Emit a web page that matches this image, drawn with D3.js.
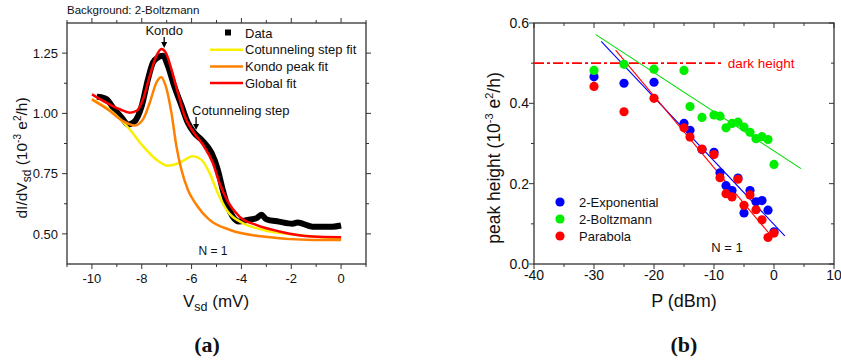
<!DOCTYPE html>
<html><head><meta charset="utf-8">
<script src="https://cdn.jsdelivr.net/npm/d3@7"></script>
<style>body{margin:0;background:#fff}svg{display:block}text{font-family:"Liberation Sans",Arial,sans-serif}</style>
</head><body><svg id="c" width="841" height="360"></svg>
<script>
// ---- Panel (a) data ----
const dataV = [-9.8,-9.6,-9.4,-9.15,-8.8,-8.55,-8.3,-8.0,-7.75,-7.55,-7.35,-7.15,-6.95,-6.7,-6.4,-6.15,-5.9,-5.55,-5.2,-4.95,-4.75,-4.55,-4.35,-4.1,-3.75,-3.4,-3.2,-3.0,-2.5,-1.95,-1.75,-1.15,-0.35,0];
const dataG = [1.069,1.066,1.058,1.024,0.982,0.954,0.965,1.031,1.142,1.211,1.232,1.239,1.197,1.114,1.031,0.961,0.92,0.885,0.836,0.767,0.683,0.614,0.572,0.551,0.558,0.565,0.579,0.561,0.551,0.542,0.547,0.530,0.530,0.535];
const globalV = [-10,-9.41,-8.88,-8.48,-8.21,-7.95,-7.68,-7.41,-7.21,-7.04,-6.81,-6.55,-6.28,-5.95,-5.55,-5.15,-4.88,-4.55,-4.08,-3.41,-2.48,-1.15,0];
const globalG = [1.079,1.044,1.017,1.003,1.010,1.058,1.155,1.239,1.267,1.253,1.183,1.086,0.989,0.926,0.871,0.795,0.711,0.635,0.572,0.537,0.510,0.489,0.486];
const kondoV = [-10,-9.28,-8.75,-8.28,-7.95,-7.68,-7.41,-7.22,-7.04,-6.81,-6.61,-6.41,-6.15,-5.81,-5.28,-4.48,-3.15,-1.15,0];
const kondoG = [1.058,1.010,0.968,0.950,0.975,1.044,1.128,1.150,1.114,1.003,0.864,0.767,0.683,0.621,0.558,0.517,0.489,0.475,0.475];
const cotV = [-10,-9.15,-8.48,-7.95,-7.41,-6.95,-6.48,-5.95,-5.61,-5.28,-4.95,-4.55,-3.95,-3.15,-1.81,0];
const cotG = [1.058,1.003,0.933,0.864,0.808,0.783,0.795,0.822,0.808,0.753,0.670,0.593,0.545,0.517,0.496,0.480];
const aXTicks = [-10,-8,-6,-4,-2,0];
const aYTicks = [0.50,0.75,1.00,1.25];
const aLegend = ["Data","Cotunneling step fit","Kondo peak fit","Global fit"];

// ---- Panel (b) data ----
const P = [-30,-25,-20,-15,-14,-12,-10,-9,-8,-7,-6,-5,-4,-3,-2,-1,0];
const hExp = [0.466,0.450,0.4525,0.350,0.333,0.285,0.278,0.227,0.195,0.183,0.214,0.127,0.183,0.155,0.158,0.134,0.080];
const hBoltz = [0.482,0.497,0.485,0.482,0.392,0.365,0.371,0.368,0.339,0.350,0.353,0.341,0.328,0.312,0.317,0.310,0.248];
const hPara = [0.442,0.379,0.4125,0.339,0.316,0.286,0.2725,0.215,0.175,0.167,0.211,0.146,0.172,0.135,0.110,0.066,0.077];
const fitExp = [[-28.8,0.554],[1.8,0.070]];
const fitBoltz = [[-29.7,0.571],[4.5,0.2375]];
const fitPara = [[-26.4,0.5325],[-0.3,0.067]];
const darkHeight = 0.5;
const bXTicks = [-40,-30,-20,-10,0,10];
const bYTicks = [0.0,0.2,0.4,0.6];
const bLegend = ["2-Exponential","2-Boltzmann","Parabola"];

const svg = d3.select("#c");
const AX = "#333";

function frame(x, y, xMaj, xMin, yMaj, yMin, fmtY, fs, inwardTR) {
  const [x0,x1] = x.range(), [y0,y1] = y.range();
  const g = svg.append("g");
  g.append("rect").attr("x",x0).attr("y",y1).attr("width",x1-x0).attr("height",y0-y1)
    .attr("fill","none").attr("stroke",AX).attr("stroke-width",1.3);
  const t = (x1_,y1_,x2_,y2_) => g.append("line").attr("x1",x1_).attr("y1",y1_).attr("x2",x2_).attr("y2",y2_).attr("stroke",AX).attr("stroke-width",1);
  const dTR = inwardTR ? -1 : 1;
  xMaj.forEach(v=>{const px=x(v); t(px,y0,px,y0+5); t(px,y1,px,y1-5*dTR);});
  xMin.forEach(v=>{const px=x(v); t(px,y0,px,y0+3); t(px,y1,px,y1-3*dTR);});
  yMaj.forEach(v=>{const py=y(v); t(x0,py,x0-5,py); t(x1,py,x1+5*dTR,py);});
  yMin.forEach(v=>{const py=y(v); t(x0,py,x0-3,py); t(x1,py,x1+3*dTR,py);});
  xMaj.forEach(v=>g.append("text").attr("x",x(v)).attr("y",y0+ (fs>13.5?16:19)).attr("text-anchor","middle").attr("font-size",fs).attr("fill","#111").text(v));
  yMaj.forEach(v=>g.append("text").attr("x",x0-(fs>13.5?5:9)).attr("y",y(v)+fs*0.36).attr("text-anchor","end").attr("font-size",fs).attr("fill","#111").text(fmtY(v)));
}

// ===== Panel (a) =====
const xa = d3.scaleLinear().domain([-11,1]).range([67,366]);
const ya = d3.scaleLinear().domain([0.375,1.375]).range([264,23]);
frame(xa, ya, aXTicks, d3.range(-11,2,1).filter(v=>!aXTicks.includes(v)), aYTicks, [0.625,0.875,1.125], d3.format(".2f"), 13, false);

const lineA = d3.line().x(d=>xa(d[0])).y(d=>ya(d[1])).curve(d3.curveMonotoneX);
const ga = svg.append("g");
ga.append("path").datum(dataV.map((v,i)=>[v,dataG[i]])).attr("d",lineA).attr("fill","none").attr("stroke","#000").attr("stroke-width",6).attr("stroke-linejoin","round");
ga.append("path").datum(cotV.map((v,i)=>[v,cotG[i]])).attr("d",lineA).attr("fill","none").attr("stroke","#f8f000").attr("stroke-width",2.5);
ga.append("path").datum(kondoV.map((v,i)=>[v,kondoG[i]])).attr("d",lineA).attr("fill","none").attr("stroke","#ff8000").attr("stroke-width",2.5);
ga.append("path").datum(globalV.map((v,i)=>[v,globalG[i]])).attr("d",lineA).attr("fill","none").attr("stroke","#ff0000").attr("stroke-width",2.5);

// title
svg.append("text").attr("x",67).attr("y",14).attr("font-size",11.5).attr("fill","#111").text("Background: 2-Boltzmann");
// legend (a)
const legA = svg.append("g");
const legColors = [null,"#f8f000","#ff8000","#ff0000"];
aLegend.forEach((s,i)=>{
  const yy = 33 + i*16.7;
  if (i===0) legA.append("rect").attr("x",225).attr("y",yy-3.5).attr("width",6).attr("height",6).attr("fill","#000");
  else legA.append("line").attr("x1",210).attr("x2",243).attr("y1",yy).attr("y2",yy).attr("stroke",legColors[i]).attr("stroke-width",2.5);
  legA.append("text").attr("x",245).attr("y",yy+4.7).attr("font-size",13).attr("fill","#111").text(s);
});
// annotations
function arrow(x, yTop, yBot) {
  svg.append("line").attr("x1",x).attr("x2",x).attr("y1",yTop).attr("y2",yBot-4).attr("stroke","#000").attr("stroke-width",1.3);
  svg.append("path").attr("d",`M${x-3},${yBot-6}L${x+3},${yBot-6}L${x},${yBot}Z`).attr("fill","#000");
}
svg.append("text").attr("x",xa(-7.1)).attr("y",35).attr("text-anchor","middle").attr("font-size",13).attr("fill","#111").text("Kondo");
arrow(xa(-7.1), 37, 48);
svg.append("text").attr("x",192).attr("y",115).attr("font-size",13).attr("fill","#111").text("Cotunneling step");
arrow(xa(-5.82), 117, 130);
svg.append("text").attr("x",213).attr("y",255).attr("text-anchor","middle").attr("font-size",12).attr("fill","#111").text("N = 1");

// axis titles (a)
const xtA = svg.append("text").attr("x",216).attr("y",307).attr("text-anchor","middle").attr("font-size",17).attr("fill","#111");
xtA.append("tspan").text("V");
xtA.append("tspan").attr("font-size",12.5).attr("dy",4).text("sd");
xtA.append("tspan").attr("dy",-4).text(" (mV)");
const ytA = svg.append("text").attr("transform","translate(27,158) rotate(-90)").attr("text-anchor","middle").attr("font-size",15.5).attr("fill","#111");
ytA.append("tspan").text("dI/dV");
ytA.append("tspan").attr("font-size",12).attr("dy",4).text("sd");
ytA.append("tspan").attr("dy",-4).text(" (10");
ytA.append("tspan").attr("font-size",10).attr("dy",-6).text("-3");
ytA.append("tspan").attr("dy",6).text(" e");
ytA.append("tspan").attr("font-size",10).attr("dy",-6).text("2");
ytA.append("tspan").attr("dy",6).text("/h)");
svg.append("text").attr("x",207).attr("y",352).attr("text-anchor","middle").attr("font-size",22).attr("font-weight","bold").attr("font-family","Liberation Serif, Times New Roman, serif").style("font-family","'Liberation Serif','Times New Roman',serif").attr("fill","#111").text("(a)");

// ===== Panel (b) =====
const xb = d3.scaleLinear().domain([-40,10]).range([534,834]);
const yb = d3.scaleLinear().domain([0,0.6]).range([264,23]);
frame(xb, yb, bXTicks, [-35,-25,-15,-5,5], bYTicks, [0.1,0.3,0.5], d3.format(".1f"), 14, true);

const gb = svg.append("g");
// dark height
gb.append("line").attr("x1",xb(-40)).attr("x2",xb(-8.5)).attr("y1",yb(darkHeight)).attr("y2",yb(darkHeight))
  .attr("stroke","#ff0000").attr("stroke-width",1.6).attr("stroke-dasharray","10,3,3,3");
gb.append("text").attr("x",xb(-7.7)).attr("y",yb(darkHeight)+5).attr("font-size",13.5).attr("fill","#ff0000").text("dark height");
// fits
const lineB = d3.line().x(d=>xb(d[0])).y(d=>yb(d[1]));
gb.append("path").attr("d",lineB(fitBoltz)).attr("stroke","#00dd00").attr("stroke-width",1.1).attr("fill","none");
gb.append("path").attr("d",lineB(fitExp)).attr("stroke","#0000ff").attr("stroke-width",1.1).attr("fill","none");
gb.append("path").attr("d",lineB(fitPara)).attr("stroke","#ff0000").attr("stroke-width",1.1).attr("fill","none");
// points
const series = [[hExp,"#0000ff"],[hBoltz,"#00ee00"],[hPara,"#ff0000"]];
series.forEach(([arr,col])=>{
  gb.selectAll(null).data(P.map((p,i)=>[p,arr[i]])).enter().append("circle")
    .attr("cx",d=>xb(d[0])).attr("cy",d=>yb(d[1])).attr("r",4.6).attr("fill",col);
});
// legend (b)
bLegend.forEach((s,i)=>{
  const yy = 202 + i*17;
  gb.append("circle").attr("cx",560).attr("cy",yy).attr("r",4.6).attr("fill",series[i][1]);
  gb.append("text").attr("x",579).attr("y",yy+4.7).attr("font-size",13).attr("fill","#111").text(s);
});
gb.append("text").attr("x",727).attr("y",252).attr("text-anchor","middle").attr("font-size",13).attr("fill","#111").text("N = 1");
// axis titles (b)
svg.append("text").attr("x",684).attr("y",307).attr("text-anchor","middle").attr("font-size",18).attr("fill","#111").text("P (dBm)");
const ytB = svg.append("text").attr("transform","translate(500,158) rotate(-90)").attr("text-anchor","middle").attr("font-size",17.5).attr("fill","#111");
ytB.append("tspan").text("peak height (10");
ytB.append("tspan").attr("font-size",11).attr("dy",-7).text("-3");
ytB.append("tspan").attr("dy",7).text(" e");
ytB.append("tspan").attr("font-size",11).attr("dy",-7).text("2");
ytB.append("tspan").attr("dy",7).text("/h)");
svg.append("text").attr("x",684).attr("y",352).attr("text-anchor","middle").attr("font-size",22).attr("font-weight","bold").style("font-family","'Liberation Serif','Times New Roman',serif").attr("fill","#111").text("(b)");
</script></body></html>
